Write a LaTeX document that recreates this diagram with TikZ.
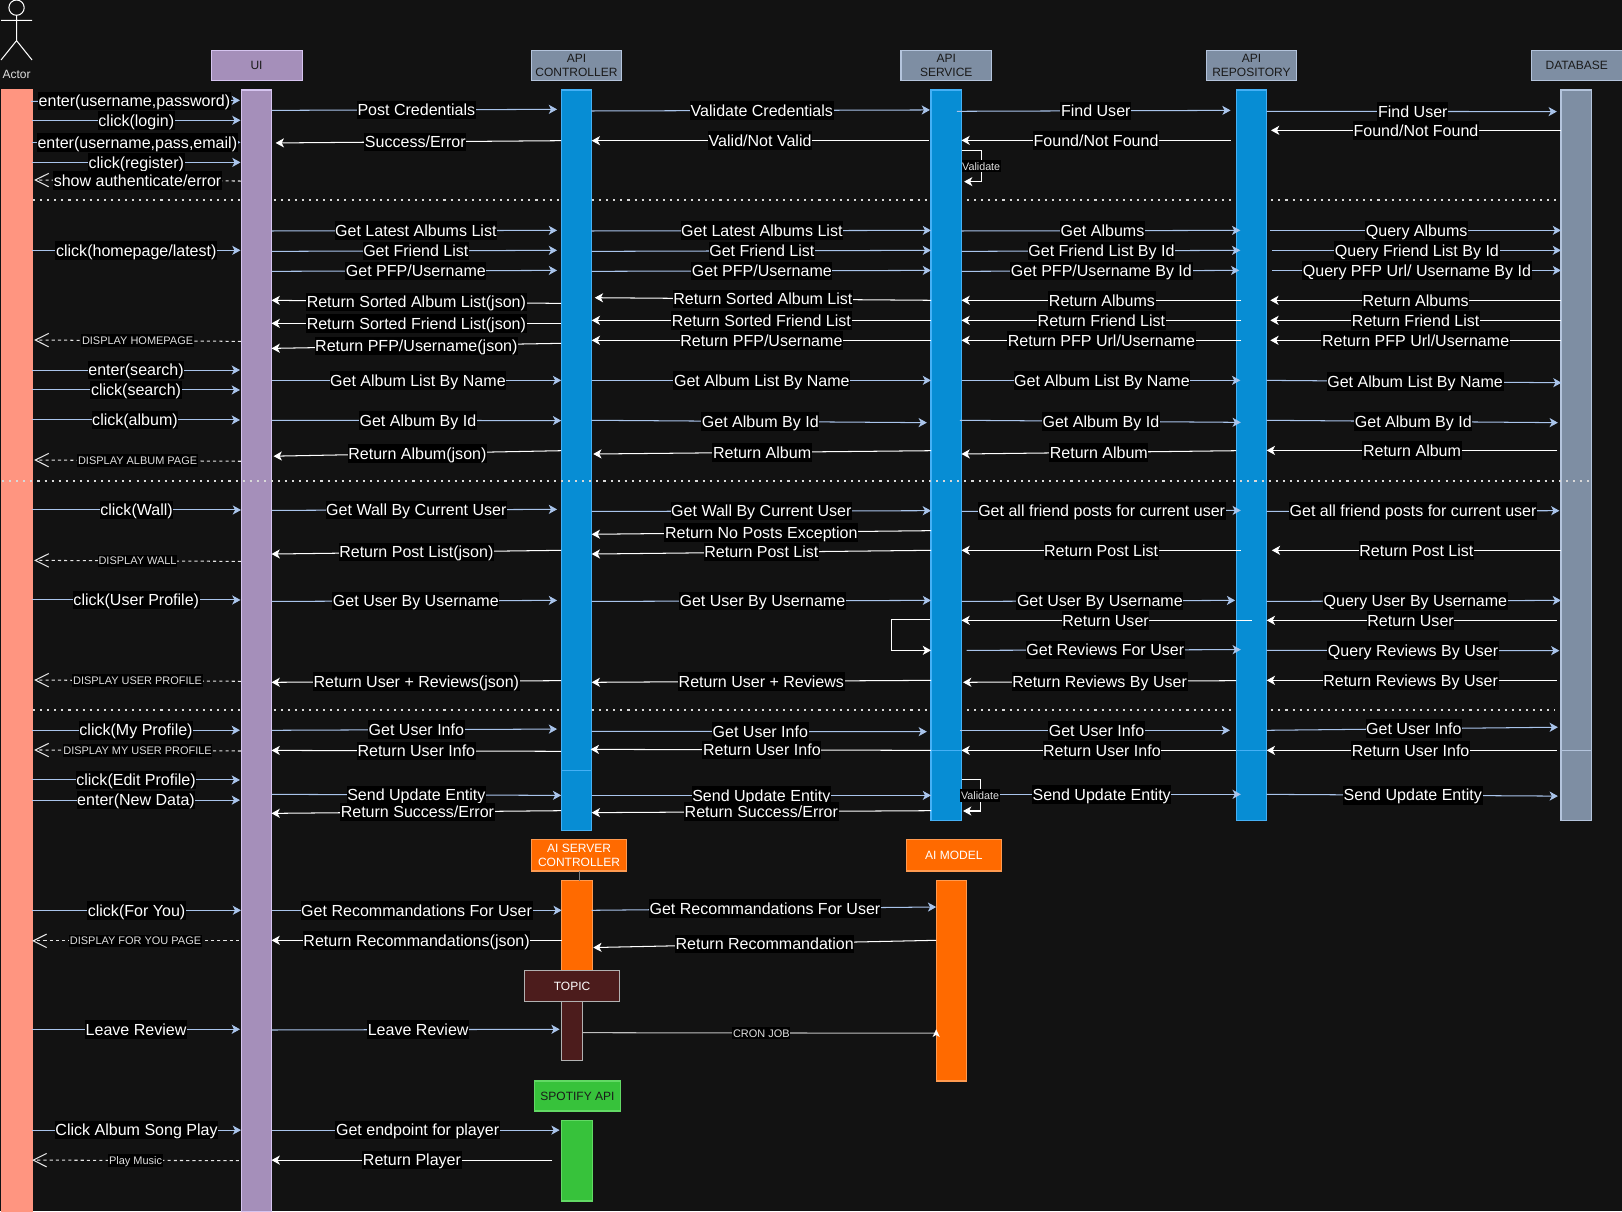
\documentclass[tikz,border=0pt]{standalone}
\usepackage{fontspec}
\setmainfont{Liberation Sans}
\usetikzlibrary{arrows.meta,calc}
\definecolor{bgc}{HTML}{121212}
\definecolor{salmon}{HTML}{FF9580}
\definecolor{uifill}{HTML}{A58FBA}
\definecolor{uiline}{HTML}{D6C4F0}
\definecolor{bluefill}{HTML}{078DD4}
\definecolor{blueline}{HTML}{45B0F5}
\definecolor{dbfill}{HTML}{7E8EA3}
\definecolor{dbline}{HTML}{B4C4DC}
\definecolor{orangefill}{HTML}{FF6A00}
\definecolor{orangeline}{HTML}{FF9A50}
\definecolor{greenfill}{HTML}{37C23B}
\definecolor{greenline}{HTML}{62D965}
\definecolor{topicfill}{HTML}{4C1C1C}
\definecolor{fwdc}{HTML}{A9C4EB}
\definecolor{darktxt}{HTML}{1A1A1A}
\newcounter{msgn}
\tikzset{
  box/.style={rectangle,draw,line width=0.5pt,inner sep=0pt,outer sep=0pt,anchor=north west,align=center,
    font=\fontsize{5.8pt}{7pt}\selectfont},
  salmonbox/.style={box,fill=salmon,draw=salmon},
  uibox/.style={box,fill=uifill,draw=uiline,text=darktxt},
  bluebox/.style={box,fill=bluefill,draw=blueline},
  graybox/.style={box,fill=dbfill,draw=dbline,text=darktxt},
  orangebox/.style={box,fill=orangefill,draw=orangeline,text=white},
  greenbox/.style={box,fill=greenfill,draw=greenline,text=darktxt},
  topicbox/.style={box,fill=topicfill,draw=gray!60!white,text=white},
  biglab/.style={fill=black,text=white,inner xsep=0.3pt,inner ysep=0pt,text height=7.27pt,text depth=1.72pt,
    font=\fontsize{7.75pt}{9pt}\selectfont},
  smalllab/.style={fill=black,text=white!88!black,inner xsep=0.3pt,inner ysep=0pt,text height=4.97pt,text depth=1.03pt,
    font=\fontsize{5.3pt}{6.5pt}\selectfont},
  valab/.style={smalllab,font=\fontsize{5.2pt}{6pt}\selectfont},
  fwdline/.style={draw=fwdc,line width=0.5pt,-{Stealth[length=4pt,width=4.4pt,inset=1.1pt,fill=fwdc]}},
  retline/.style={draw=white,line width=0.5pt,-{Stealth[length=4pt,width=4.4pt,inset=1.1pt,fill=white]}},
  dashline/.style={draw=white!90!black,line width=0.5pt,dash pattern=on 1.5pt off 1.5pt,
    -{Straight Barb[length=6.5pt,width=6.5pt,line width=0.5pt,sep=0pt]}},
  sepline/.style={draw=white!85!black,line width=1pt,dash pattern=on 1pt off 2.42pt},
}
\newcommand{\colnode}[7]{\node[#2,minimum width={(#5-#3)*0.5pt},minimum height={(#6-#4)*0.5pt}] (#1) at (#3,#4) {#7};}
\newcommand{\fwd}[8][1]{\stepcounter{msgn}\draw[fwdline] ($(#2.east |- 0,#4)+(#3,0)$) -- node[biglab,xshift=#1*0.5pt] (m\themsgn) {#8} ($(#5.west |- 0,#7)+(#6,0)$);}
\newcommand{\ret}[8][0]{\stepcounter{msgn}\draw[retline] ($(#2.west |- 0,#4)+(#3,0)$) -- node[biglab,xshift=#1*0.5pt] (m\themsgn) {#8} ($(#5.east |- 0,#7)+(#6,0)$);}
\newcommand{\dsh}[6][smalllab]{\stepcounter{msgn}\draw[dashline] ($(ui.west |- 0,#3)+(#2,0)$) -- node[#1] (m\themsgn) {#6} ($(actorbar.east |- 0,#5)+(#4,0)$);}
\begin{document}
\begin{tikzpicture}[x=0.5pt,y=-0.5pt]
\fill[bgc] (0,0) rectangle (1568,1171);
\useasboundingbox (0,0) rectangle (1568,1171);
% separators behind the bars
\coordinate (sepaL) at (32,193.7);
\coordinate (sepaR) at (1505,193.7);
\coordinate (sepcL) at (32,686.7);
\coordinate (sepcR) at (1503,686.7);
\draw[sepline] (sepaL) -- (sepaR);
\draw[sepline] (sepcL) -- (sepcR);
% actor
\draw[white,line width=0.5pt] (16,7.4) circle (7.4);
\draw[white,line width=0.5pt] (16,14.8) -- (16,39.3) (1,19.7) -- (31,19.7) (1,58) -- (16,39.3) -- (31,58);
\node[text=white!88!black,inner sep=0pt,font=\fontsize{5.8pt}{7pt}\selectfont] (actorlab) at (16,71.5) {Actor};
% headers
\colnode{uihead}{uibox}{204}{48.5}{292}{78}{UI}
\colnode{apihead}{graybox}{513.5}{48.5}{601}{78}{API\\CONTROLLER}
\colnode{svchead}{graybox}{871}{48.5}{958.5}{78}{API\\SERVICE}
\colnode{repohead}{graybox}{1166}{48.5}{1253.5}{78}{API\\REPOSITORY}
\colnode{dbhead}{graybox}{1480.5}{48.5}{1568}{78}{DATABASE}
% bars
\colnode{actorbar}{salmonbox}{1}{87}{31}{1171}{}
\colnode{ui}{uibox}{233}{87}{262.5}{1171}{}
\colnode{api}{bluebox}{542.5}{87}{572}{803}{}
\colnode{svc}{bluebox}{900}{87}{929.5}{793.5}{}
\colnode{repo}{bluebox}{1195}{87}{1224.5}{793.5}{}
\colnode{db}{graybox}{1509}{87}{1538.5}{793.5}{}
\draw[blueline,line width=0.5pt] (api.west |- 0,744.5) -- (api.east |- 0,744.5);
\draw[blueline,line width=0.5pt] (svc.west |- 0,725.4) -- (svc.east |- 0,725.4);
\draw[blueline,line width=0.5pt] (repo.west |- 0,725.4) -- (repo.east |- 0,725.4);
\draw[dbline,line width=0.5pt] (db.west |- 0,725.4) -- (db.east |- 0,725.4);
% AI, topic and spotify
\colnode{aihead}{orangebox}{513.5}{812}{606}{842}{AI SERVER\\CONTROLLER}
\colnode{aimhead}{orangebox}{876}{812}{968}{842}{AI MODEL}
\colnode{aic}{orangebox}{543}{851.5}{572.5}{945}{}
\colnode{aim}{orangebox}{905}{851.5}{934.5}{1045}{}
\draw[gray,line width=0.5pt] (aihead.south) -- (aihead.south |- aic.north);
\colnode{topichead}{topicbox}{507}{938.5}{599}{968}{TOPIC}
\colnode{topic}{topicbox}{543}{968}{563}{1025.5}{}
\colnode{spothead}{greenbox}{517}{1045}{599.5}{1074}{SPOTIFY API}
\colnode{spot}{greenbox}{543}{1083.5}{572.5}{1161}{}
% separator over the bars
\coordinate (sepbL) at (2,464.8);
\coordinate (sepbR) at (1537,464.8);
\draw[sepline] (sepbL) -- (sepbR);
% actor <-> UI
\fwd[-1]{actorbar}{-1}{98}{ui}{-1}{97}{enter(username,password)}
\fwd[0]{actorbar}{0}{116.3}{ui}{-0.5}{116.3}{click(login)}
\fwd[1]{actorbar}{0}{137.6}{ui}{-0.5}{137.6}{enter(username,pass,email)}
\fwd[0]{actorbar}{0}{157}{ui}{-0.5}{157}{click(register)}
\dsh[biglab]{0}{175}{2}{174}{show authenticate/error}
\fwd[0]{actorbar}{0}{242}{ui}{-0.5}{242}{click(homepage/latest)}
\dsh{0}{330}{2}{328.7}{DISPLAY HOMEPAGE}
\fwd[0]{actorbar}{0}{357.7}{ui}{-1}{357.7}{enter(search)}
\fwd[0]{actorbar}{0}{377}{ui}{-1}{377}{click(search)}
\fwd[-1]{actorbar}{0}{406}{ui}{-1}{406}{click(album)}
\dsh{0}{445.9}{2}{444.7}{DISPLAY ALBUM PAGE}
\fwd[0]{actorbar}{0}{493}{ui}{0}{493}{click(Wall)}
\dsh{0}{542.7}{2}{541.7}{DISPLAY WALL}
\fwd[0]{actorbar}{0}{580}{ui}{-0.5}{580}{click(User Profile)}
\dsh{0}{658.6}{2}{657.4}{DISPLAY USER PROFILE}
\fwd[0]{actorbar}{0}{705.9}{ui}{-1}{705.9}{click(My Profile)}
\dsh{0}{726}{2}{725}{DISPLAY MY USER PROFILE}
\fwd[0]{actorbar}{0}{754}{ui}{-1}{754}{click(Edit Profile)}
\fwd[0]{actorbar}{0}{773.5}{ui}{-1}{773.5}{enter(New Data)}
\fwd[0]{actorbar}{0}{880}{ui}{0}{880}{click(For You)}
\dsh{-2}{909.5}{0}{909.5}{DISPLAY FOR YOU PAGE}
\fwd[0]{actorbar}{0}{995}{ui}{-1}{995}{Leave Review}
\fwd[0]{actorbar}{0}{1092.5}{ui}{0}{1092.5}{Click Album Song Play}
\dsh{-2}{1122}{0}{1121.5}{Play Music}
% UI <-> API
\fwd[2]{ui}{0}{106.7}{api}{-4}{105.7}{Post Credentials}
\ret[-3]{api}{0}{136}{ui}{4}{138.2}{Success/Error}
\fwd[1.5]{ui}{0}{223.3}{api}{-4}{222.7}{Get Latest Albums List}
\fwd[1.5]{ui}{0}{243}{api}{-4}{242}{Get Friend List}
\fwd[1.5]{ui}{0}{262.3}{api}{-4}{261.4}{Get PFP/Username}
\ret{api}{0}{293.3}{ui}{0}{290.3}{Return Sorted Album List(json)}
\ret{api}{0}{312.6}{ui}{0}{312.6}{Return Sorted Friend List(json)}
\ret{api}{0}{331.9}{ui}{0}{336.8}{Return PFP/Username(json)}
\fwd[1.5]{ui}{0}{367.7}{api}{0}{367.7}{Get Album List By Name}
\fwd[1.5]{ui}{0}{406.3}{api}{0}{406.6}{Get Album By Id}
\ret{api}{0}{435.7}{ui}{2}{441}{Return Album(json)}
\fwd[2]{ui}{0}{493.4}{api}{-4}{492.4}{Get Wall By Current User}
\ret{api}{0}{532}{ui}{0}{535.6}{Return Post List(json)}
\fwd[1.5]{ui}{0}{581.4}{api}{-4}{580.4}{Get User By Username}
\ret{api}{0}{658}{ui}{0}{659.6}{Return User + Reviews(json)}
\fwd[2]{ui}{0}{706}{api}{-4}{704.8}{Get User Info}
\ret{api}{0}{726.3}{ui}{0}{725.4}{Return User Info}
\fwd[0]{ui}{0}{767.9}{api}{0}{768.9}{Send Update Entity}
\ret[1]{api}{0}{783.7}{ui}{0}{786.3}{Return Success/Error}
\fwd[0]{ui}{0}{880}{aic}{0}{880}{Get Recommandations For User}
\ret{aic}{0}{909}{ui}{0}{909}{Return Recommandations(json)}
\fwd[2.5]{ui}{0}{995.7}{topic}{-2}{995}{Leave Review}
\fwd[2]{ui}{0}{1092.5}{spot}{-2}{1092.5}{Get endpoint for player}
\ret{spot}{-9}{1121.5}{ui}{0}{1121.5}{Return Player}
% API <-> service
\fwd{api}{0}{107.3}{svc}{-1}{106.3}{Validate Credentials}
\ret{svc}{-2.4}{136}{api}{0}{136}{Valid/Not Valid}
\fwd[0.5]{api}{0}{223.3}{svc}{0}{222.7}{Get Latest Albums List}
\fwd[0.5]{api}{0}{243}{svc}{0}{242}{Get Friend List}
\fwd[0.5]{api}{0}{262.3}{svc}{0}{261.4}{Get PFP/Username}
\ret{svc}{0}{290.3}{api}{3}{287.8}{Return Sorted Album List}
\ret{svc}{0}{309.7}{api}{0}{309.7}{Return Sorted Friend List}
\ret{svc}{0}{329}{api}{0}{329}{Return PFP/Username}
\fwd[0.5]{api}{0}{367.7}{svc}{0}{367.7}{Get Album List By Name}
\fwd[1]{api}{0}{406.3}{svc}{-4}{408.6}{Get Album By Id}
\ret{svc}{0}{435.7}{api}{1.5}{438.9}{Return Album}
\fwd[0]{api}{0}{494.4}{svc}{0}{493.7}{Get Wall By Current User}
\ret{svc}{0}{513}{api}{0}{516.5}{Return No Posts Exception}
\ret{svc}{0}{532}{api}{0}{535.6}{Return Post List}
\fwd[1]{api}{0}{581.4}{svc}{0}{580.4}{Get User By Username}
\draw[retline] ($(svc.west |- 0,598.7)+(-1,0)$) -- ++(-37.5,0) |- (svc.west |- 0,628.7);
\ret{svc}{0}{657.7}{api}{0}{659.6}{Return User + Reviews}
\fwd[1]{api}{0}{707}{svc}{-4}{707.3}{Get User Info}
\ret[1]{svc}{0}{725.4}{api}{-1}{724.4}{Return User Info}
\fwd[0]{api}{0}{768.9}{svc}{0}{768.9}{Send Update Entity}
\ret{svc}{0}{783.7}{api}{0}{785.6}{Return Success/Error}
% AI
\fwd[1]{aic}{-0.5}{880}{aim}{0}{876.8}{Get Recommandations For User}
\ret{aim}{0}{909}{aic}{1}{916}{Return Recommandation}
\draw[gray!50!white,line width=0.5pt] (topic.east |- 0,998.3) -- node[smalllab,xshift=1pt] (cronlab) {CRON JOB} (aim.west |- 0,998.8);
\fill[white] (aim.west |- 0,995) -- ++(3.5,7.5) -- ++(-3.5,-2) -- ++(-3.5,2) -- cycle;
% service <-> repository
\fwd[2]{svc}{-4.5}{107.6}{repo}{-5.4}{106.7}{Find User}
\ret{repo}{-5.4}{135.7}{svc}{0}{135.7}{Found/Not Found}
\draw[retline] (svc.east |- 0,145.3) -- ++(19,0) |- node[pos=0.25,valab] (val1) {Validate} ($(svc.east |- 0,175.6)+(2.5,0)$);
\fwd[1.5]{svc}{0}{223.3}{repo}{4}{222.7}{Get Albums}
\fwd[0.5]{svc}{0}{243}{repo}{4}{242}{Get Friend List By Id}
\fwd[1]{svc}{0}{262.3}{repo}{3}{261.4}{Get PFP/Username By Id}
\ret[0.5]{repo}{5}{290.3}{svc}{0}{290.3}{Return Albums}
\ret{repo}{5}{309.7}{svc}{0}{309.7}{Return Friend List}
\ret{repo}{5}{329}{svc}{0}{329}{Return PFP Url/Username}
\fwd[1]{svc}{0}{367.7}{repo}{4}{367.7}{Get Album List By Name}
\fwd[0.5]{svc}{-1.5}{406.3}{repo}{4.5}{408.3}{Get Album By Id}
\ret{repo}{0}{435.7}{svc}{0}{438.9}{Return Album}
\fwd[0.5]{svc}{0}{494.4}{repo}{4.5}{493.4}{Get all friend posts for current user}
\ret{repo}{4.5}{532}{svc}{0}{532}{Return Post List}
\fwd[1.5]{svc}{0}{581.4}{repo}{-1}{580.4}{Get User By Username}
\ret[-1]{repo}{15}{599.7}{svc}{0}{599.7}{Return User}
\fwd[1.5]{svc}{5}{628.7}{repo}{4.5}{628}{Get Reviews For User}
\ret{repo}{0}{658}{svc}{1.5}{659.6}{Return Reviews By User}
\fwd[1.5]{svc}{-1.5}{706}{repo}{-6}{706}{Get User Info}
\ret[3]{repo}{0}{725.4}{svc}{0}{725.4}{Return User Info}
\fwd[0.5]{svc}{0}{767.9}{repo}{4.5}{767.9}{Send Update Entity}
\draw[retline] (svc.east |- 0,754) -- ++(18,0) |- node[pos=0.25,valab] (val2) {Validate} ($(svc.east |- 0,784)+(1.5,0)$);
% repository <-> database
\fwd{repo}{0}{107.6}{db}{-4}{107.9}{Find User}
\ret{db}{0}{126}{repo}{4.2}{126}{Found/Not Found}
\fwd{repo}{3.5}{222.7}{db}{0}{222.7}{Query Albums}
\fwd[0.5]{repo}{5}{242}{db}{0}{242}{Query Friend List By Id}
\fwd[0.5]{repo}{5}{261.4}{db}{0}{261.4}{Query PFP Url/ Username By Id}
\ret{db}{0}{290.3}{repo}{3.5}{290.3}{Return Albums}
\ret{db}{0}{309.7}{repo}{3.5}{309.7}{Return Friend List}
\ret{db}{0}{329}{repo}{3.5}{329}{Return PFP Url/Username}
\fwd[1]{repo}{0}{367.7}{db}{0.5}{370}{Get Album List By Name}
\fwd[1]{repo}{0}{406.3}{db}{-3}{408.6}{Get Album By Id}
\ret{db}{-3.5}{435.4}{repo}{0}{435.4}{Return Album}
\fwd[0]{repo}{0}{494.4}{db}{-1.5}{493.7}{Get all friend posts for current user}
\ret{db}{0}{532}{repo}{5}{532}{Return Post List}
\fwd[1.5]{repo}{0}{581.4}{db}{0}{580.4}{Query User By Username}
\ret[-1]{db}{-4.3}{599.7}{repo}{0}{599.7}{Return User}
\fwd[0]{repo}{0}{628.7}{db}{-1.5}{629}{Query Reviews By User}
\ret[-1]{db}{-4.3}{657.7}{repo}{0}{657.7}{Return Reviews By User}
\fwd[1.5]{repo}{0}{706}{db}{-3}{703}{Get User Info}
\ret[-1]{db}{-4.3}{725.4}{repo}{0}{725.4}{Return User Info}
\fwd[0.5]{repo}{0}{767.9}{db}{-3}{769.6}{Send Update Entity}
\end{tikzpicture}
\end{document}
